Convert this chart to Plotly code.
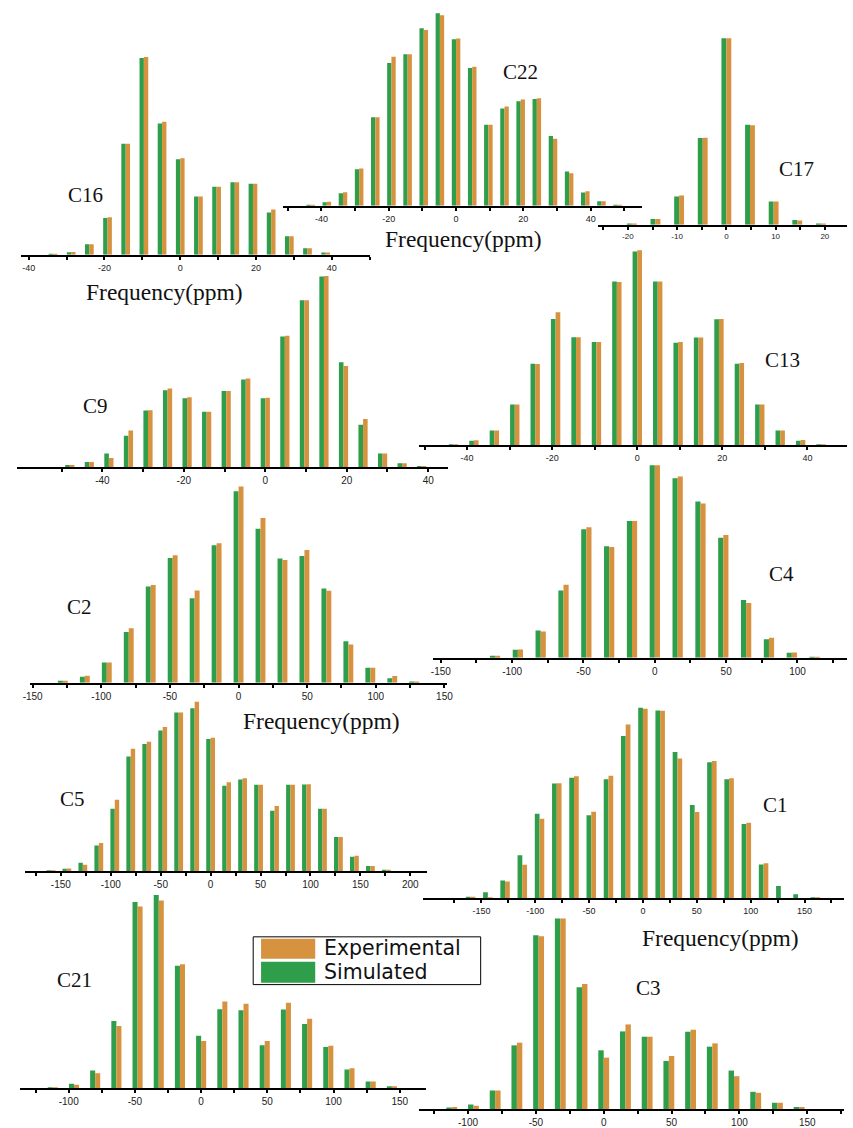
import plotly.graph_objects as go

W, H = 853, 1128
GREEN = "#2e9e4b"
ORANGE = "#d6923e"

# ---------------- data (relative intensity, a.u.) ----------------
c16_ppm = [-33.6, -28.8, -24.0, -19.2, -14.4, -9.6, -4.8, 0.0, 4.8, 9.6, 14.4, 19.2, 24.0, 28.8, 33.6, 38.4]
c16_sim = [1, 8, 32, 111, 335, 593, 396, 288, 176, 205, 219, 214, 128, 56, 20, 7]
c16_exp = [1, 9, 32, 113, 335, 596, 401, 291, 176, 205, 219, 214, 137, 56, 20, 7]

c22_ppm = [-43.2, -38.4, -33.6, -28.8, -24.0, -19.2, -14.4, -9.6, -4.8, 0.0, 4.8, 9.6, 14.4, 19.2, 24.0, 28.8, 33.6, 38.4, 43.2, 48.0]
c22_sim = [1, 11, 38, 110, 267, 430, 457, 535, 580, 502, 415, 244, 293, 315, 322, 210, 103, 40, 14, 1]
c22_exp = [1, 12, 41, 112, 267, 449, 457, 530, 574, 504, 419, 244, 299, 320, 324, 202, 98, 44, 14, 1]

c17_ppm = [-19.2, -14.4, -9.6, -4.8, 0.0, 4.8, 9.6, 14.4, 19.2]
c17_sim = [1, 17, 85, 261, 562, 301, 70, 14, 1]
c17_exp = [2, 17, 88, 262, 562, 300, 70, 13, 1]

c9_ppm = [-48.0, -43.2, -38.4, -33.6, -28.8, -24.0, -19.2, -14.4, -9.6, -4.8, 0.0, 4.8, 9.6, 14.4, 19.2, 24.0, 28.8, 33.6, 38.4]
c9_sim = [7, 16, 41, 95, 171, 232, 208, 167, 230, 264, 208, 394, 503, 575, 316, 128, 41, 12, 2]
c9_exp = [7, 16, 28, 111, 172, 237, 211, 167, 230, 267, 209, 396, 503, 576, 305, 145, 41, 12, 2]

c13_ppm = [-43.2, -38.4, -33.6, -28.8, -24.0, -19.2, -14.4, -9.6, -4.8, 0.0, 4.8, 9.6, 14.4, 19.2, 24.0, 28.8, 33.6, 38.4, 43.2]
c13_sim = [2, 14, 45, 123, 246, 381, 326, 311, 494, 584, 494, 309, 325, 380, 246, 123, 45, 14, 3]
c13_exp = [2, 15, 45, 123, 245, 401, 326, 311, 492, 588, 494, 311, 325, 381, 248, 123, 45, 16, 3]

c2_ppm = [-128, -112, -96, -80, -64, -48, -32, -16, 0, 16, 32, 48, 64, 80, 96, 112, 128]
c2_sim = [6, 18, 61, 153, 290, 376, 254, 414, 577, 464, 374, 382, 284, 125, 45, 13, 3]
c2_exp = [6, 21, 61, 164, 294, 384, 278, 420, 591, 496, 370, 400, 277, 115, 45, 20, 3]

c4_ppm = [-112, -96, -80, -64, -48, -32, -16, 0, 16, 32, 48, 64, 80, 96, 112]
c4_sim = [6, 24, 82, 203, 387, 336, 412, 580, 541, 471, 362, 174, 56, 15, 3]
c4_exp = [6, 25, 79, 220, 393, 334, 412, 580, 546, 465, 370, 165, 60, 16, 3]

c5_ppm = [-160, -144, -128, -112, -96, -80, -64, -48, -32, -16, 0, 16, 32, 48, 64, 80, 96, 112, 128, 144, 160, 176]
c5_sim = [1, 8, 26, 78, 189, 346, 384, 425, 479, 492, 399, 258, 277, 261, 183, 261, 262, 189, 104, 44, 16, 5]
c5_exp = [1, 9, 20, 86, 216, 370, 391, 435, 479, 511, 403, 269, 281, 261, 197, 261, 263, 189, 104, 47, 16, 5]

c1_ppm = [-160, -144, -128, -112, -96, -80, -64, -48, -32, -16, 0, 16, 32, 48, 64, 80, 96, 112, 128, 144, 160]
c1_sim = [5, 18, 54, 130, 255, 346, 363, 250, 359, 489, 574, 566, 441, 281, 410, 359, 224, 102, 37, 12, 3]
c1_exp = [5, 1, 51, 101, 240, 347, 368, 261, 369, 524, 571, 565, 421, 260, 414, 362, 228, 106, 0, 0, 1]

c21_ppm = [-112, -96, -80, -64, -48, -32, -16, 0, 16, 32, 48, 64, 80, 96, 112, 128, 144]
c21_sim = [4, 14, 54, 203, 562, 583, 370, 159, 239, 236, 130, 238, 194, 125, 57, 21, 7]
c21_exp = [4, 11, 46, 188, 548, 566, 374, 143, 262, 255, 143, 258, 210, 129, 61, 21, 7]

c3_ppm = [-112, -96, -80, -64, -48, -32, -16, 0, 16, 32, 48, 64, 80, 96, 112, 128, 144]
c3_sim = [5, 14, 56, 192, 524, 574, 367, 177, 234, 218, 145, 233, 188, 116, 52, 19, 6]
c3_exp = [6, 10, 56, 200, 521, 574, 377, 155, 255, 218, 160, 239, 198, 99, 49, 19, 6]

# tick positions / labels
ticks_narrow = [-50, -40, -30, -20, -10, 0, 10, 20, 30, 40, 50]
ticks_c17 = [-25, -20, -15, -10, -5, 0, 5, 10, 15, 20]
ticks_wide = [-175, -150, -125, -100, -75, -50, -25, 0, 25, 50, 75, 100, 125, 150, 175, 200]
labels_narrow = [-40, -20, 0, 20, 40]
labels_c17 = [-20, -10, 0, 10, 20]
labels_wide = [-150, -100, -50, 0, 50, 100, 150, 200]

legend_labels = ["Experimental", "Simulated"]
xlabel = "Frequency(ppm)"

# ---------------- panel layout (pixels) ----------------
def px(x):
    return x / W

def py(y):
    return 1 - y / H

YTOP = 600  # intensity units at the top of every panel (3 units per pixel)

panels = [
    # name, ppm, sim, exp, x0, x1, xrange, axis_y, barw, ticks, labels, tickfont, labelpos
    ("C16", c16_ppm, c16_sim, c16_exp, 14, 369, [-42.1, 50.2], 256.0, 1.15, ticks_narrow, labels_narrow, 9, (80, 196)),
    ("C22", c22_ppm, c22_sim, c22_exp, 280, 645, [-51.5, 55.3], 206.7, 1.27, ticks_narrow, labels_narrow, 9, (521, 72)),
    ("C17", c17_ppm, c17_sim, c17_exp, 600, 853, [-26.1, 24.5], 225.7, 1.0, ticks_c17, labels_c17, 8, (802, 170)),
    ("C9", c9_ppm, c9_sim, c9_exp, 10, 448, [-61.0, 44.9], 469.3, 1.13, ticks_narrow, labels_narrow, 10, (90, 408)),
    ("C13", c13_ppm, c13_sim, c13_exp, 418, 853, [-51.4, 49.3], 447.3, 1.1, ticks_narrow, labels_narrow, 9, (788, 362)),
    ("C2", c2_ppm, c2_sim, c2_exp, 23, 447, [-152.2, 152.0], 685.7, 3.6, ticks_wide, labels_wide, 10, (74, 610)),
    ("C4", c4_ppm, c4_sim, c4_exp, 433, 853, [-155.2, 134.7], 660.7, 3.6, ticks_wide, labels_wide, 10, (786, 577)),
    ("C5", c5_ppm, c5_sim, c5_exp, 18, 427, [-186.2, 217.2], 875.3, 4.4, ticks_wide, labels_wide, 10, (67, 803)),
    ("C1", c1_ppm, c1_sim, c1_exp, 422, 850, [-204.6, 186.7], 902.3, 4.4, ticks_wide, labels_wide, 9, (780, 809)),
    ("C21", c21_ppm, c21_sim, c21_exp, 13, 425, [-136.9, 169.4], 1093.3, 3.8, ticks_wide, labels_wide, 10, (69, 984)),
    ("C3", c3_ppm, c3_sim, c3_exp, 418, 850, [-136.4, 177.1], 1114.0, 4.0, ticks_wide, labels_wide, 10, (651, 992)),
]

fig = go.Figure()
annotations = []

for i, (name, ppm, sim, exp, x0, x1, xr, ay, bw, tks, lbls, tf, lp) in enumerate(panels, start=1):
    xa = "x" if i == 1 else f"x{i}"
    ya = "y" if i == 1 else f"y{i}"
    fig.add_trace(go.Bar(x=ppm, y=sim, width=bw, offset=-bw, marker=dict(color=GREEN, line=dict(width=0)),
                         name="Simulated", xaxis=xa, yaxis=ya, showlegend=False))
    fig.add_trace(go.Bar(x=ppm, y=exp, width=bw, offset=0, marker=dict(color=ORANGE, line=dict(width=0)),
                         name="Experimental", xaxis=xa, yaxis=ya, showlegend=False))
    xkey = "xaxis" if i == 1 else f"xaxis{i}"
    ykey = "yaxis" if i == 1 else f"yaxis{i}"
    fig.update_layout({
        xkey: dict(domain=[px(x0), px(x1)], range=xr, anchor=ya,
                   showline=True, linecolor="black", linewidth=2,
                   ticks="outside", ticklen=3, tickwidth=1.5, tickcolor="black",
                   tickvals=tks, ticktext=[str(t) if t in lbls else "" for t in tks],
                   tickfont=dict(family="Liberation Sans, Arial", size=tf, color="#222"),
                   showgrid=False, zeroline=False, fixedrange=True),
        ykey: dict(domain=[py(ay), py(ay - YTOP / 3)], range=[0, YTOP], anchor=xa,
                   visible=False, fixedrange=True),
    })
    annotations.append(dict(text=name, x=px(lp[0]), y=py(lp[1]), xref="paper", yref="paper",
                            showarrow=False, xanchor="center", yanchor="middle",
                            font=dict(family="Liberation Serif, Times New Roman", size=21, color="#111")))

for (fx, fy) in [(160, 293), (464, 240), (319, 724), (725, 942)]:
    annotations.append(dict(text=xlabel, x=px(fx), y=py(fy), xref="paper", yref="paper",
                            showarrow=False, xanchor="center", yanchor="middle",
                            font=dict(family="Liberation Serif, Times New Roman", size=23.5, color="#111")))

# legend box
shapes = [
    dict(type="rect", xref="paper", yref="paper", x0=px(250), x1=px(481), y0=py(989), y1=py(941),
         line=dict(color="black", width=1), fillcolor="white"),
    dict(type="rect", xref="paper", yref="paper", x0=px(258), x1=px(313), y0=py(963), y1=py(943),
         line=dict(width=0), fillcolor=ORANGE),
    dict(type="rect", xref="paper", yref="paper", x0=px(258), x1=px(313), y0=py(987), y1=py(966),
         line=dict(width=0), fillcolor=GREEN),
]
for lab, ly in zip(legend_labels, [952.5, 976.5]):
    annotations.append(dict(text=lab, x=px(320), y=py(ly), xref="paper", yref="paper",
                            showarrow=False, xanchor="left", yanchor="middle",
                            font=dict(family="DejaVu Sans, Arial", size=20.5, color="#111")))

fig.update_layout(width=W, height=H, margin=dict(l=0, r=0, t=0, b=0),
                  paper_bgcolor="white", plot_bgcolor="rgba(0,0,0,0)",
                  barmode="overlay", showlegend=False,
                  annotations=annotations, shapes=shapes)

fig.write_html("out.html", config={"displayModeBar": False},
               post_script="document.body.style.margin='0';document.body.style.overflow='hidden';")
